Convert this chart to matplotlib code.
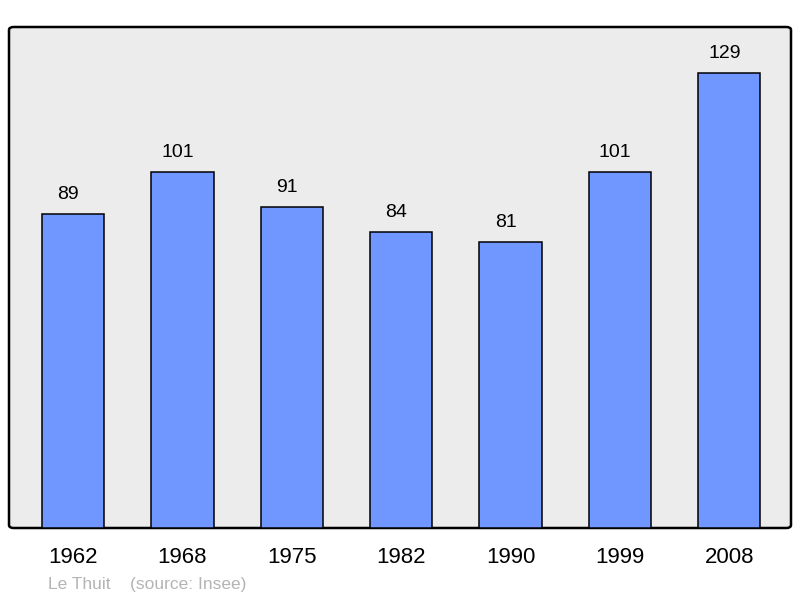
import matplotlib.pyplot as plt
from matplotlib.patches import FancyBboxPatch

years = ['1962', '1968', '1975', '1982', '1990', '1999', '2008']
population = [89, 101, 91, 84, 81, 101, 129]

plt.rcParams['font.family'] = ['Liberation Sans', 'DejaVu Sans']

fig = plt.figure(figsize=(8, 5.98), dpi=100)
ax = fig.add_axes([9 / 800, 70 / 598, 782 / 800, 501 / 598])
ax.patch.set_visible(False)
for s in ax.spines.values():
    s.set_visible(False)

# rounded grey frame
frame = FancyBboxPatch((0, 0), 1, 1, boxstyle='round,pad=0,rounding_size=0.006',
                       transform=ax.transAxes, facecolor='#ececec', edgecolor='black',
                       linewidth=1.8, zorder=0, clip_on=False)
ax.add_patch(frame)

x = range(len(years))
bars = ax.bar(x, population, width=0.57, color='#7096ff', edgecolor='black',
              linewidth=1.1, zorder=2)
for rect, v in zip(bars, population):
    # labels sit a touch left of the bar centre in the original
    ax.text(rect.get_x() + rect.get_width() / 2 - 0.045, v + 5.5, str(v),
            ha='center', va='center', fontsize=14, color='black')

ax.set_xlim(-0.585, 6.565)
ax.set_ylim(0, 142)
ax.set_xticks(list(x))
ax.set_xticklabels(years, fontsize=16)
ax.tick_params(axis='x', length=0, pad=14)
ax.set_yticks([])

fig.text(48 / 800, 1 - 584 / 598, 'Le Thuit    (source: Insee)', color='#b4b4b4',
         fontsize=12.5, ha='left', va='center')

fig.savefig('out.png', dpi=100)
